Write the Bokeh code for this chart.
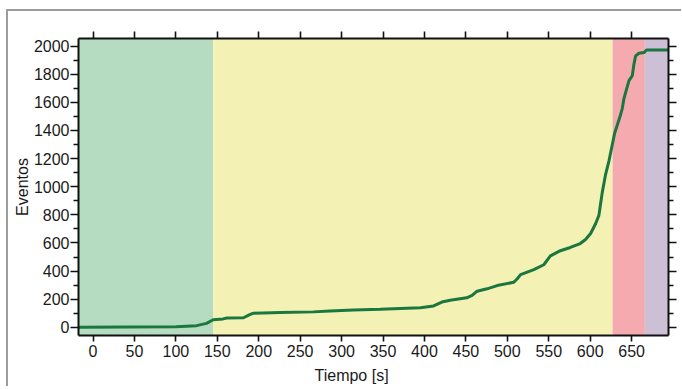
from bokeh.plotting import figure
from bokeh.models import Range1d, LinearAxis, Title, FixedTicker
from bokeh.embed import file_html
from bokeh.resources import INLINE

# Cumulative event count over time
tiempo = [-17.5, 100, 125, 137, 145, 157, 161.5, 181.6, 189.7, 194, 226, 266, 286,
          314.5, 346.8, 395, 411, 421, 431, 451, 457.5, 463.5, 475.6, 487.7, 507.8,
          512, 516, 532, 544, 552, 564, 576, 588, 594.4, 600.5, 606.5, 610.5, 612.5,
          614.6, 618.6, 622.6, 626.7, 629.5, 632.7, 635.9, 638.7, 640.7, 644, 646.8,
          650.8, 652.8, 654.8, 658.8, 664.9, 668, 694.5]
eventos = [0, 4, 12, 28, 54, 60, 66, 68, 92, 101, 105, 110, 117,
           124, 129, 140, 152, 180, 192, 210, 227, 257, 274, 297, 321,
           346, 375, 410, 445, 508, 545, 568, 596, 625, 667, 737, 796, 877,
           960, 1088, 1182, 1300, 1380, 1439, 1497, 1556, 1626, 1696, 1754,
           1789, 1872, 1930, 1949, 1954, 1972, 1972]

# Shaded phases along the time axis
fase_inicio = [-17.5, 145, 627, 666]
fase_fin = [145, 627, 666, 694.5]
fase_color = ["#b5dcc0", "#f3f1b4", "#f5aab0", "#cdbfd6"]

x_ticks = list(range(0, 651, 50))
y_ticks = list(range(0, 2001, 200))
y_minor = list(range(100, 2001, 200))

X_MIN, X_MAX = -17.5, 694.5
Y_MIN, Y_MAX = -58, 2054

FONT = "Liberation Sans"
TXT = "#1a1a1a"
FS = "16px"

p = figure(width=675, height=377,
           x_range=Range1d(X_MIN, X_MAX), y_range=Range1d(Y_MIN, Y_MAX),
           output_backend="svg", toolbar_location=None,
           min_border_left=70, min_border_right=15,
           min_border_top=27, min_border_bottom=48)
p.margin = (9, 0, 0, 6)
p.styles = {"border-top": "2px solid #9c9c9c", "border-left": "2px solid #9c9c9c"}
p.outline_line_color = None
p.background_fill_color = "white"
p.border_fill_color = "white"
p.xgrid.visible = False
p.ygrid.visible = False

p.quad(left=fase_inicio, right=fase_fin, bottom=Y_MIN, top=Y_MAX,
       fill_color=fase_color, line_color=None)
p.line(tiempo, eventos, line_color="#1a773d", line_width=3)

xt = FixedTicker(ticks=x_ticks)
yt = FixedTicker(ticks=y_ticks, minor_ticks=y_minor)


def style_axis(ax, major_out, minor_out):
    ax.axis_line_color = "#111111"
    ax.axis_line_width = 2
    ax.major_tick_line_color = "#111111"
    ax.major_tick_line_width = 1.6
    ax.minor_tick_line_color = "#111111"
    ax.minor_tick_line_width = 1.6
    ax.major_tick_in = 0
    ax.major_tick_out = major_out
    ax.minor_tick_in = 0
    ax.minor_tick_out = minor_out
    ax.major_label_text_font = FONT
    ax.major_label_text_font_size = FS
    ax.major_label_text_color = TXT


xa = p.xaxis[0]
xa.ticker = xt
style_axis(xa, 6, 0)
xa.major_label_standoff = 3

ya = p.yaxis[0]
ya.ticker = yt
style_axis(ya, 8, 5)
ya.major_label_standoff = 1
ya.axis_label = "Eventos"
ya.axis_label_text_font = FONT
ya.axis_label_text_font_size = FS
ya.axis_label_text_font_style = "normal"
ya.axis_label_text_color = TXT
ya.axis_label_standoff = 0

top = LinearAxis(ticker=xt, major_label_overrides={t: "" for t in x_ticks})
style_axis(top, 7, 0)
p.add_layout(top, "above")

right = LinearAxis(ticker=yt, major_label_overrides={t: "" for t in y_ticks})
style_axis(right, 8, 5)
p.add_layout(right, "right")

p.add_layout(Title(text="Tiempo [s]", align="left", offset=236,
                   text_font=FONT, text_font_size=FS,
                   text_font_style="normal", text_color=TXT), "below")

open("out.html", "w").write(file_html(p, INLINE))
